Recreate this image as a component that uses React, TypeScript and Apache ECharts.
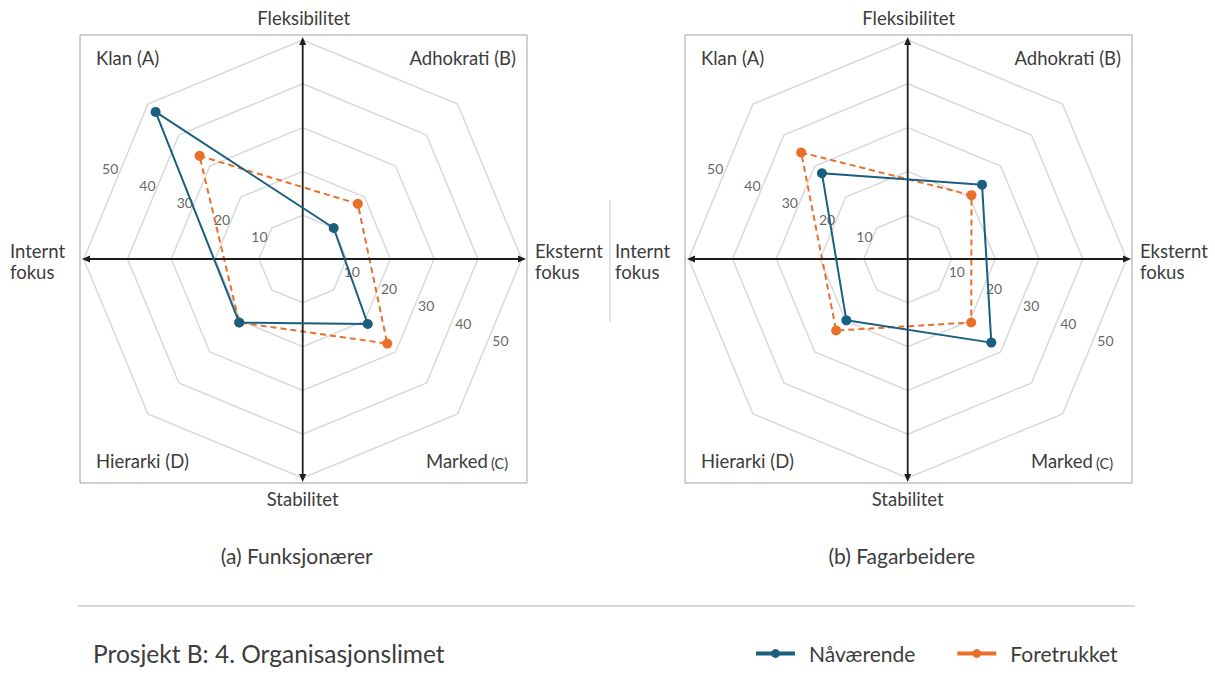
import React, { useEffect, useRef } from "react";
import * as echarts from "echarts";

// ---- data ----
const quadrants = ["Klan (A)", "Adhokrati (B)", "Marked (C)", "Hierarki (D)"];
const quadrantAngles = [135, 45, 315, 225]; // direction of each quadrant (degrees, counter-clockwise from east)
const ringTicks = [10, 20, 30, 40, 50];
const seriesNames = ["Nåværende", "Foretrukket"];

const funksjonaererNaa = [47.5, 10, 21, 20.5];
const funksjonaererForetrukket = [33.3, 17.8, 27.3, 20.5];
const fagarbeidereNaa = [27.7, 24, 27, 19.8];
const fagarbeidereForetrukket = [34.4, 20.6, 20.5, 23.1];

const panelCaptions = ["(a) Funksjonærer", "(b) Fagarbeidere"];
const title = "Prosjekt B: 4. Organisasjonslimet";

// ---- style / layout ----
const BLUE = "#1a5e80";
const ORANGE = "#e8702a";
const GRID = "#d9d9d9";
const TEXT = "#3c3c3c";
const FONT = "Lato, 'Open Sans', sans-serif";
const CX = [302.7, 907.7];
const CY = 259;
const R = 219;

function closedData(values: number[]) {
  const pts: any[] = values.map((v, i) => ({ value: [v, quadrantAngles[i]], name: quadrants[i] }));
  pts.push({ value: [values[0], quadrantAngles[0]], symbol: "none" });
  return pts;
}

function panelGraphics(p: number) {
  const cx = CX[p];
  const dx = cx - CX[0];
  const els: any[] = [];
  // panel box
  els.push({ type: "rect", shape: { x: 80 + dx, y: 35, width: 447, height: 448 }, style: { fill: "none", stroke: "#a0a0a0", lineWidth: 1 }, z: 0 });
  // axes
  const ax = { stroke: "#1e1e1e", lineWidth: 1.8 };
  els.push({ type: "line", shape: { x1: cx, y1: 40, x2: cx, y2: 479 }, style: ax, z: 5 });
  els.push({ type: "line", shape: { x1: 84 + dx, y1: CY, x2: 524 + dx, y2: CY }, style: ax, z: 5 });
  const arrow = { fill: "#1e1e1e" };
  els.push({ type: "polygon", shape: { points: [[cx, 37], [cx - 3.5, 45], [cx + 3.5, 45]] }, style: arrow, z: 5 });
  els.push({ type: "polygon", shape: { points: [[cx, 482], [cx - 3.5, 474], [cx + 3.5, 474]] }, style: arrow, z: 5 });
  els.push({ type: "polygon", shape: { points: [[82 + dx, CY], [90 + dx, CY - 3.5], [90 + dx, CY + 3.5]] }, style: arrow, z: 5 });
  els.push({ type: "polygon", shape: { points: [[526 + dx, CY], [518 + dx, CY - 3.5], [518 + dx, CY + 3.5]] }, style: arrow, z: 5 });
  // axis titles
  const t = { fill: TEXT, fontSize: 18.5, fontFamily: FONT };
  els.push({ type: "text", x: cx + 1, y: 18, style: { ...t, text: "Fleksibilitet", align: "center", verticalAlign: "middle" } });
  els.push({ type: "text", x: cx, y: 499, style: { ...t, text: "Stabilitet", align: "center", verticalAlign: "middle" } });
  els.push({ type: "text", x: 10 + dx, y: 261.5, style: { ...t, text: "Internt\nfokus", lineHeight: 21, align: "left", verticalAlign: "middle" } });
  els.push({ type: "text", x: 535 + dx, y: 261.5, style: { ...t, text: "Eksternt\nfokus", lineHeight: 21, align: "left", verticalAlign: "middle" } });
  // quadrant labels
  els.push({ type: "text", x: 96 + dx, y: 57.5, style: { ...t, text: quadrants[0], align: "left", verticalAlign: "middle" } });
  els.push({ type: "text", x: 516 + dx, y: 57.5, style: { ...t, text: quadrants[1], align: "right", verticalAlign: "middle" } });
  els.push({ type: "text", x: 96 + dx, y: 461, style: { ...t, text: quadrants[3], align: "left", verticalAlign: "middle" } });
  els.push({
    type: "text", x: 508 + dx, y: 461,
    style: {
      text: "{a|Marked} {b|(C)}", align: "right", verticalAlign: "middle", fontFamily: FONT,
      rich: {
        a: { fontSize: 18.5, fill: TEXT, fontFamily: FONT, verticalAlign: "bottom" },
        b: { fontSize: 14.5, fill: TEXT, fontFamily: FONT, verticalAlign: "bottom" },
      },
    },
  });
  // caption
  els.push({ type: "text", x: cx - 6, y: 555.5, style: { fill: TEXT, fontSize: 21, fontFamily: FONT, text: panelCaptions[p], align: "center", verticalAlign: "middle" } });
  return els;
}

export default function App() {
  const ref = useRef<HTMLDivElement>(null);
  useEffect(() => {
    if (!ref.current) return;
    const chart = echarts.init(ref.current, undefined, { renderer: "svg" });
    const indicator = Array.from({ length: 8 }, () => ({ name: "", min: 0, max: 50 }));
    const radar = CX.map((cx) => ({
      center: [cx, CY], radius: R, startAngle: 90, splitNumber: 5, shape: "polygon", indicator, z: 1,
      axisName: { show: false }, axisLine: { show: false }, axisTick: { show: false }, axisLabel: { show: false },
      splitLine: { lineStyle: { color: GRID, width: 1.5 } }, splitArea: { show: false },
    }));
    const polar = CX.map((cx) => ({ center: [cx, CY], radius: R }));
    const angleAxis = CX.map((_, i) => ({ polarIndex: i, type: "value", min: 0, max: 360, startAngle: 0, clockwise: false, show: false }));
    const radiusAxis = CX.map((_, i) => ({ polarIndex: i, type: "value", min: 0, max: 50, show: false }));

    const panels = [
      [funksjonaererNaa, funksjonaererForetrukket],
      [fagarbeidereNaa, fagarbeidereForetrukket],
    ];
    const series: any[] = [];
    panels.forEach((pair, p) => {
      // ring labels
      series.push({
        type: "scatter", coordinateSystem: "polar", polarIndex: p, symbolSize: 0, silent: true, z: 3,
        label: { show: true, position: "inside", formatter: "{b}", color: TEXT, fontSize: 14, fontFamily: FONT },
        data: [
          ...ringTicks.map((t) => ({ name: String(t), value: [t * 0.936, 155.5], label: { offset: [-6, -5] } })),
          ...ringTicks.map((t) => ({ name: String(t), value: [t * 0.936, 335], label: { offset: [12, -5] } })),
        ],
      });
      series.push({
        type: "line", name: seriesNames[1], coordinateSystem: "polar", polarIndex: p, z: 4,
        symbol: "circle", symbolSize: 10, color: ORANGE,
        itemStyle: { color: ORANGE }, lineStyle: { color: ORANGE, width: 2, type: [6, 4] },
        data: closedData(pair[1]),
      });
      series.push({
        type: "line", name: seriesNames[0], coordinateSystem: "polar", polarIndex: p, z: 5,
        symbol: "circle", symbolSize: 10, color: BLUE,
        itemStyle: { color: BLUE }, lineStyle: { color: BLUE, width: 2, type: "solid" },
        data: closedData(pair[0]),
      });
    });

    const graphic: any[] = [
      ...panelGraphics(0),
      ...panelGraphics(1),
      { type: "line", shape: { x1: 610, y1: 200, x2: 610, y2: 322 }, style: { stroke: "#c8c8c8", lineWidth: 1 } },
      { type: "line", shape: { x1: 78, y1: 606, x2: 1135, y2: 606 }, style: { stroke: "#cccccc", lineWidth: 1.5 } },
      { type: "text", x: 93, y: 653, style: { text: title, fill: TEXT, fontSize: 24.5, fontFamily: FONT, align: "left", verticalAlign: "middle" } },
    ];

    chart.setOption({
      animation: false,
      backgroundColor: "#ffffff",
      radar, polar, angleAxis, radiusAxis,
      legend: {
        left: 749, top: 638, itemWidth: 39, itemHeight: 11, itemGap: 40,
        data: seriesNames,
        lineStyle: { type: "solid", width: 4 },
        textStyle: { fontSize: 21, color: TEXT, fontFamily: FONT, padding: [0, 0, 0, 9] },
        selectedMode: false,
      },
      graphic,
      series,
    });
    return () => chart.dispose();
  }, []);
  return <div ref={ref} style={{ position: "absolute", left: 0, top: 0, width: 1215, height: 690 }} />;
}
